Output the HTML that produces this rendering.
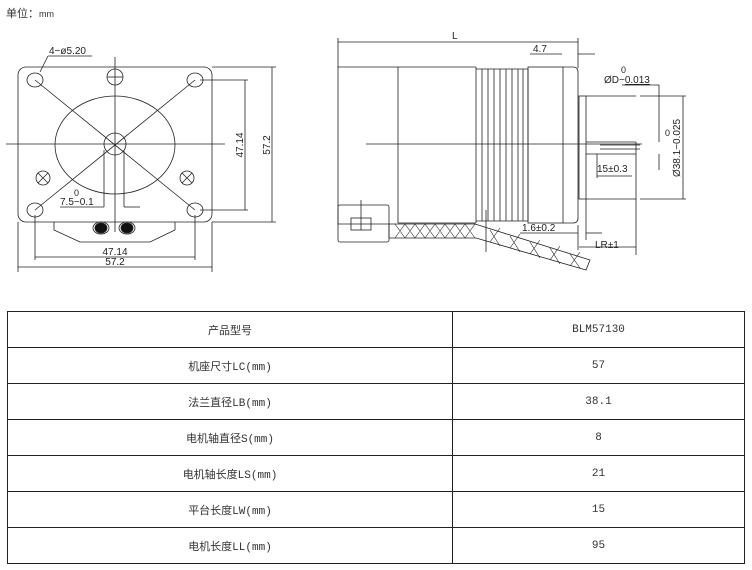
<!DOCTYPE html>
<html><head><meta charset="utf-8"><style>
body{margin:0;width:752px;height:570px;background:#fff;overflow:hidden;font-family:"Liberation Sans","Noto Sans CJK SC",sans-serif;}
svg{position:absolute;left:0;top:0}
table{position:absolute;left:7px;top:311px;width:738px;border-collapse:collapse;font-family:"Liberation Mono","Noto Sans CJK SC",monospace;font-size:11px;color:#333}
td{border:1px solid #222;height:35px;text-align:center;padding:0}
</style></head><body>
<svg width="752" height="310" viewBox="0 0 752 310" font-family="Liberation Sans, sans-serif" fill="none" stroke="#222" stroke-width="0.8">
<text x="6" y="17" font-size="11" fill="#333" stroke="none" font-family="Liberation Sans, Noto Sans CJK SC, sans-serif">单位：<tspan font-size="9">mm</tspan></text>
<!-- front view -->
<rect x="18" y="67" width="194" height="155" rx="8"/>
<ellipse cx="35" cy="80" rx="8" ry="7"/><ellipse cx="195" cy="80" rx="8" ry="7"/>
<ellipse cx="35" cy="210" rx="8" ry="7"/><ellipse cx="195" cy="210" rx="8" ry="7"/>
<ellipse cx="115" cy="145" rx="60" ry="49"/>
<circle cx="115" cy="144" r="11"/>
<line x1="6" y1="144" x2="225" y2="144"/><line x1="115" y1="57" x2="115" y2="232"/>
<line x1="35" y1="80" x2="195" y2="210"/><line x1="195" y1="80" x2="35" y2="210"/>
<circle cx="115" cy="77" r="8"/><line x1="107" y1="77" x2="123" y2="77"/>
<circle cx="43" cy="178" r="7"/><path d="M38 173l10 10M48 173l-10 10"/>
<circle cx="187" cy="178" r="7"/><path d="M182 173l10 10M192 173l-10 10"/>
<path d="M54 222v8l26 12h70l25-12v-8"/>
<ellipse cx="101" cy="228" rx="8" ry="6"/><ellipse cx="127" cy="228" rx="8" ry="6"/>
<ellipse cx="101" cy="228" rx="6" ry="5" fill="#111"/><ellipse cx="127" cy="228" rx="6" ry="5" fill="#111"/>
<line x1="104" y1="150" x2="104" y2="207"/><line x1="124" y1="150" x2="124" y2="207"/>
<line x1="60" y1="207" x2="104" y2="207"/><line x1="124" y1="207" x2="140" y2="207"/>
<text x="74" y="196" font-size="9" fill="#222" stroke="none">0</text>
<text x="60" y="205" font-size="10" fill="#222" stroke="none">7.5−0.1</text>
<line x1="48" y1="56" x2="92" y2="56"/><line x1="48" y1="56" x2="40" y2="72"/>
<text x="49" y="54" font-size="10" fill="#222" stroke="none">4−ø5.20</text>
<path d="M200 80h48M200 210h48M212 67h64M212 222h64"/>
<line x1="245" y1="80" x2="245" y2="210"/><line x1="272" y1="67" x2="272" y2="222"/>
<text transform="translate(243,145) rotate(-90)" text-anchor="middle" font-size="10" fill="#222" stroke="none">47.14</text>
<text transform="translate(270,145) rotate(-90)" text-anchor="middle" font-size="10" fill="#222" stroke="none">57.2</text>
<path d="M35 215v45M195 215v45M18 222v50M212 222v50"/>
<line x1="35" y1="257" x2="195" y2="257"/><line x1="18" y1="267" x2="212" y2="267"/>
<text x="115" y="255" text-anchor="middle" font-size="10" fill="#222" stroke="none">47.14</text>
<text x="115" y="265" text-anchor="middle" font-size="10" fill="#222" stroke="none">57.2</text>
<!-- side view -->
<path d="M338 67v157h51M338 67h60M398 67h78M398 67v156M476 67v156M398 223h78"/>
<path d="M476 69h52v152h-52"/>
<path d="M482 69v152M488 69v152M494 69v152M500 69v152M506 69v152M512 69v152M518 69v152M523 69v152"/>
<rect x="528" y="67" width="35" height="156"/>
<path d="M563 67h10q5 0 5 5v146q0 5-5 5h-10"/>
<rect x="579" y="96" width="7" height="103"/>
<path d="M586 96h50M586 199h50M586 142h50M586 154h50M600 145h40M600 149h40M636 142v113"/>
<line x1="366" y1="144" x2="642" y2="144"/>
<rect x="338" y="205" width="51" height="37" rx="2"/>
<rect x="351" y="218" width="20" height="12"/><line x1="361" y1="200" x2="361" y2="230"/>
<path d="M389 224h86l115 36-4 10-110-32h-87z" />
<path d="M395 224l10 14M405 224l10 14M415 224l10 14M425 224l10 14M435 224l10 14M445 224l10 14M455 224l10 14M465 224l10 14M405 224l-10 14M415 224l-10 14M425 224l-10 14M435 224l-10 14M445 224l-10 14M455 224l-10 14M465 224l-10 14M475 224l-10 14M490 230l10 16M510 236l10 16M530 242l10 16M550 248l10 16M570 254l10 14M500 228l-10 14M520 234l-10 14M540 240l-10 14M560 246l-10 14M580 252l-10 14" stroke-width="0.6"/>
<line x1="486" y1="210" x2="486" y2="252"/>
<path d="M338 38v30M578 38v30M578 225v25"/>
<line x1="338" y1="42" x2="578" y2="42"/>
<text x="452" y="39" font-size="10" fill="#222" stroke="none">L</text>
<line x1="530" y1="54" x2="562" y2="54"/><line x1="578" y1="54" x2="595" y2="54"/>
<text x="533" y="52" font-size="10" fill="#222" stroke="none">4.7</text>
<text x="621" y="73" font-size="9" fill="#222" stroke="none">0</text>
<text x="604" y="83" font-size="10" fill="#222" stroke="none">ØD−<tspan text-decoration="underline">0.013</tspan></text>
<path d="M622 85h37v57M659 154v16"/>
<path d="M640 96h46M640 199h46"/><line x1="683" y1="96" x2="683" y2="199"/>
<text x="665" y="136" font-size="9" fill="#222" stroke="none">0</text>
<text transform="translate(680,148) rotate(-90)" text-anchor="middle" font-size="10" fill="#222" stroke="none">Ø38.1−0.025</text>
<line x1="597" y1="176" x2="632" y2="176"/><line x1="597" y1="154" x2="597" y2="178"/>
<text x="597" y="172" font-size="10" fill="#222" stroke="none">15±0.3</text>
<line x1="520" y1="233" x2="578" y2="233"/><line x1="586" y1="233" x2="602" y2="233"/><line x1="586" y1="199" x2="586" y2="240"/>
<text x="522" y="231" font-size="10" fill="#222" stroke="none">1.6±0.2</text>
<line x1="579" y1="247" x2="636" y2="247"/>
<text x="595" y="248" font-size="10" fill="#222" stroke="none">LR±1</text>
</svg>
<table>
<tr><td style="width:444px">产品型号</td><td>BLM57130</td></tr>
<tr><td>机座尺寸LC(mm)</td><td>57</td></tr>
<tr><td>法兰直径LB(mm)</td><td>38.1</td></tr>
<tr><td>电机轴直径S(mm)</td><td>8</td></tr>
<tr><td>电机轴长度LS(mm)</td><td>21</td></tr>
<tr><td>平台长度LW(mm)</td><td>15</td></tr>
<tr><td>电机长度LL(mm)</td><td>95</td></tr>
</table>
</body></html>
